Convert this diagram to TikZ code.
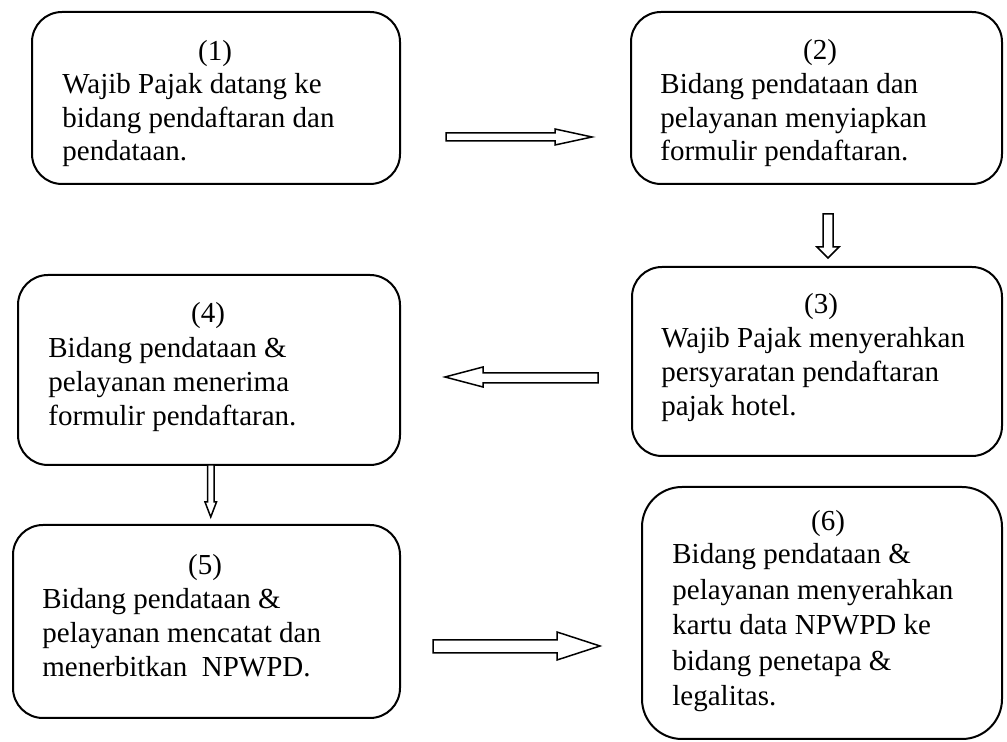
\documentclass[tikz,border=0pt]{standalone}
\usepackage{fontspec}
\setmainfont{Liberation Serif}
\begin{document}
\begin{tikzpicture}[x=0.5pt,y=-0.5pt,
  box/.style={draw, line width=1pt, rounded corners=15pt, inner sep=0pt},
  head/.style={anchor=base, inner sep=0pt, font=\fontsize{14.5}{17}\selectfont},
  body/.style={anchor=base west, inner sep=0pt, font=\fontsize{14.5}{17}\selectfont},
  barrow/.style={draw, line width=0.75pt, fill=white, line join=miter}]
\fill[white] (0,0) rectangle (1007,742);
\useasboundingbox (0,0) rectangle (1007,742);

% boxes
\node[box, minimum width=184pt, minimum height=86pt] (b1) at (216,98) {};
\node[box, minimum width=185.5pt, minimum height=86pt] (b2) at (816.5,98) {};
\node[box, minimum width=185pt, minimum height=94.5pt] (b3) at (817,361.5) {};
\node[box, minimum width=191pt, minimum height=95pt] (b4) at (209,370) {};
\node[box, minimum width=193.5pt, minimum height=96.5pt] (b5) at (206.5,621.5) {};
\node[box, rounded corners=20pt, minimum width=180pt, minimum height=126pt] (b6) at (822,613) {};

% headings
\node[head] (h1) at (215,61) {(1)};
\node[head] (h2) at (820,60) {(2)};
\node[head] (h3) at (821,314) {(3)};
\node[head] (h4) at (208,323) {(4)};
\node[head] (h5) at (205,575) {(5)};
\node[head] (h6) at (828,531) {(6)};

% bodies
\node[body, font=\fontsize{14.5}{16.6}\selectfont] (t1) at (62,94) {\begin{tabular}[t]{@{}l@{}}Wajib Pajak datang ke\\bidang pendaftaran dan\\pendataan.\end{tabular}};
\node[body, font=\fontsize{14.5}{16.6}\selectfont] (t2) at (660,94) {\begin{tabular}[t]{@{}l@{}}Bidang pendataan dan\\pelayanan menyiapkan\\formulir pendaftaran.\end{tabular}};
\node[body] (t3) at (661,348) {\begin{tabular}[t]{@{}l@{}}Wajib Pajak menyerahkan\\persyaratan pendaftaran\\pajak hotel.\end{tabular}};
\node[body] (t4) at (48,358) {\begin{tabular}[t]{@{}l@{}}Bidang pendataan \&\\pelayanan menerima\\formulir pendaftaran.\end{tabular}};
\node[body] (t5) at (42,609) {\begin{tabular}[t]{@{}l@{}}Bidang pendataan \&\\pelayanan mencatat dan\\menerbitkan\ \ NPWPD.\end{tabular}};
\node[body, font=\fontsize{14.5}{17.75}\selectfont] (t6) at (672,564) {\begin{tabular}[t]{@{}l@{}}Bidang pendataan \&\\pelayanan menyerahkan\\kartu data NPWPD ke\\bidang penetapa \&\\legalitas.\end{tabular}};

% block arrows
\draw[barrow] (446,133) -- (555,133) -- (555,129) -- (592,137) -- (555,145) -- (555,141) -- (446,141) -- cycle;
\draw[barrow] (823,214) -- (833,214) -- (833,247) -- (839,247) -- (828,258) -- (817,247) -- (823,247) -- cycle;
\draw[barrow] (598,373) -- (483,373) -- (483,367) -- (445,377) -- (483,387) -- (483,383) -- (598,383) -- cycle;
\draw[barrow] (207.5,465) -- (214,465) -- (214,502) -- (216.5,502) -- (210.75,517) -- (205,502) -- (207.5,502) -- cycle;
\draw[barrow] (433,640) -- (557,640) -- (557,632) -- (600,646) -- (557,660) -- (557,653) -- (433,653) -- cycle;
\end{tikzpicture}
\end{document}
